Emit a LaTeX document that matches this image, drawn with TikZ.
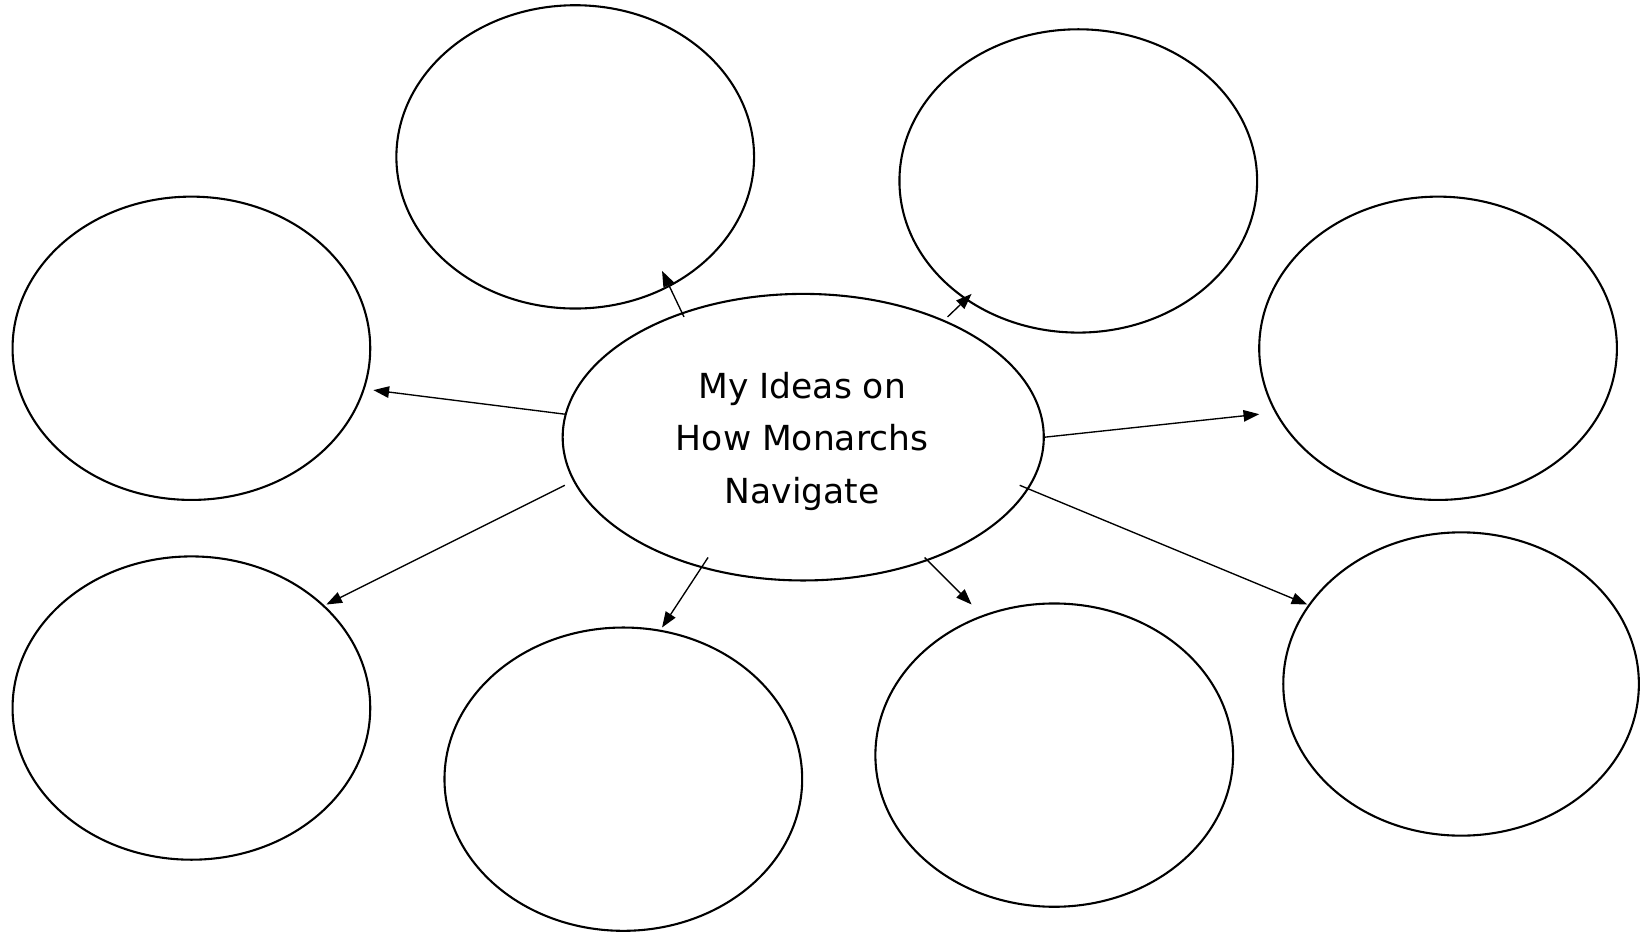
\documentclass[tikz,border=0pt]{standalone}
\usepackage{fontspec}
\setmainfont{DejaVu Sans}
\usetikzlibrary{shapes.geometric,arrows.meta}
\begin{document}
\begin{tikzpicture}[x=1pt,y=-1pt,
  bubble/.style={draw,line width=2pt,ellipse,minimum width=342pt,minimum height=290pt,inner sep=0pt},
  hub/.style={draw,line width=2pt,ellipse,minimum width=460pt,minimum height=274pt,inner sep=0pt},
  hubtext/.style={align=center,font=\fontsize{33}{50}\selectfont},
  link/.style={line width=1.3pt,-{Triangle[length=15pt,width=11pt]}}]
\useasboundingbox (0,0) rectangle (1570,892);
\node[hub] (c) at (768,418) {};
\node[hubtext] (ct) at (767,422) {My Ideas on\\How Monarchs\\Navigate};
\node[bubble] (t1) at (550,150) {};
\node[bubble] (t2) at (1031,173) {};
\node[bubble] (l1) at (183,333) {};
\node[bubble] (r1) at (1375,333) {};
\node[bubble] (l2) at (183,677) {};
\node[bubble] (b1) at (596,745) {};
\node[bubble] (b2) at (1008,722) {};
\node[bubble,minimum width=340pt] (r2) at (1397,654) {};
\coordinate (s1) at (654,303); \coordinate (e1) at (633,259);
\coordinate (s2) at (906,303); \coordinate (e2) at (929,281);
\coordinate (s3) at (540,396); \coordinate (e3) at (357,373);
\coordinate (s4) at (999,418); \coordinate (e4) at (1204,396);
\coordinate (s5) at (540,464); \coordinate (e5) at (312,578);
\coordinate (s6) at (677,533); \coordinate (e6) at (633,600);
\coordinate (s7) at (884,533); \coordinate (e7) at (929,578);
\coordinate (s8) at (975,464); \coordinate (e8) at (1250,578);
\draw[link] (s1) -- (e1);
\draw[link] (s2) -- (e2);
\draw[link] (s3) -- (e3);
\draw[link] (s4) -- (e4);
\draw[link] (s5) -- (e5);
\draw[link] (s6) -- (e6);
\draw[link] (s7) -- (e7);
\draw[link] (s8) -- (e8);
\end{tikzpicture}
\end{document}
